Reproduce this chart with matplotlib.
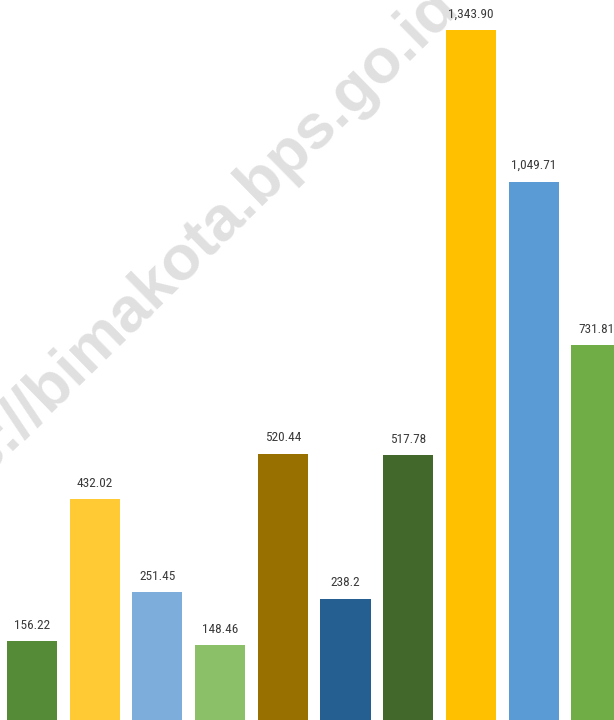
import matplotlib
matplotlib.use("Agg")
import matplotlib.pyplot as plt
from matplotlib import font_manager

categories = ["A", "B", "C", "D", "E", "F", "G", "H", "I", "J"]
values = [156.22, 432.02, 251.45, 148.46, 520.44, 238.2, 517.78, 1343.90, 1049.71, 731.81]
labels = ["156.22", "432.02", "251.45", "148.46", "520.44", "238.2", "517.78", "1,343.90", "1,049.71", "731.81"]
colors = ["#558B37", "#FFCA33", "#7DAEDB", "#8CC068", "#987000",
          "#255E91", "#43682B", "#FFC000", "#5B9BD5", "#70AD47"]

names = {f.name for f in font_manager.fontManager.ttflist}
label_family = [f for f in ["Liberation Sans Narrow", "Roboto Condensed", "Open Sans Condensed", "Roboto", "DejaVu Sans"] if f in names]

fig = plt.figure(figsize=(6.14, 7.2), dpi=100)
ax = fig.add_axes([0, 0, 1, 1])
x = list(range(len(categories)))

# watermark
ax.text(0.272, 0.622, "https://bimakota.bps.go.id", transform=ax.transAxes,
        rotation=44.5, rotation_mode="anchor", ha="center", va="center",
        fontsize=45.5, fontweight="bold", family=["Liberation Sans", "DejaVu Sans"],
        color="#E0E0E0", zorder=0)

bars = ax.bar(x, values, width=0.8, color=colors, zorder=2)
for xi, v, lab in zip(x, values, labels):
    ax.annotate(lab, (xi, v), xytext=(0, 11.5), textcoords="offset points",
                ha="center", va="center", fontsize=9.5, color="#3A3A3A",
                family=label_family, zorder=3)

ax.set_xlim(-0.51, 9.282)
ax.set_ylim(2.7, 1402.9)
ax.axis("off")
fig.savefig("out.png", dpi=100, facecolor="white")
